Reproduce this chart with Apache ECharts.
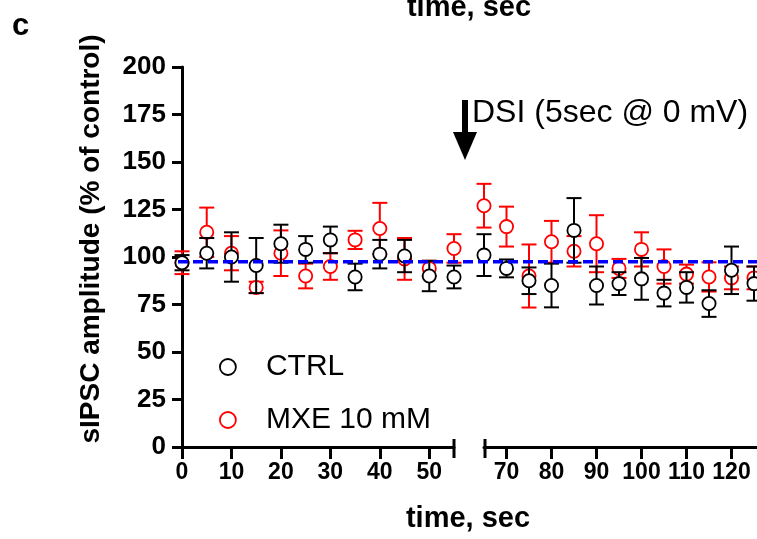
<!DOCTYPE html>
<html>
<head>
<meta charset="utf-8">
<script src="https://cdn.jsdelivr.net/npm/echarts@6/dist/echarts.min.js"></script>
<style>
html,body{margin:0;padding:0;background:#fff;}
#chart{width:757px;height:539px;}
</style>
</head>
<body>
<div id="chart"></div>
<script>
// ---- data ----
const times   = [0, 5, 10, 15, 20, 25, 30, 35, 40, 45, 50, 55, 65, 70, 75, 80, 85, 90, 95, 100, 105, 110, 115, 120, 125];
const ctrlMean = [97, 102, 100, 95.5, 107, 104, 109, 89.5, 101.5, 100.5, 90, 89.5, 101, 94, 87.5, 85, 114, 85, 86, 88.5, 81, 84, 75.5, 93, 86];
const ctrlErr  = [4, 8, 13, 14.5, 10, 7, 7, 7, 7.5, 8.5, 8, 6, 11, 4.7, 7, 11.5, 17, 10, 6, 11, 7, 8, 7, 12.5, 9];
const mxeMean  = [97, 113, 102, 84, 102, 90, 95, 109, 115, 99, 94, 104.5, 127, 116, 90, 108, 103, 107, 94, 104, 95, 91, 89.5, 89, 89];
const mxeErr   = [6, 13, 9, 3, 12, 6.5, 7, 4.8, 13.5, 11, 4, 7.5, 11.5, 10.5, 16.6, 11, 8, 15, 5, 9, 9, 5, 7.7, 6, 6];
const refLevel = 97.5;
const leftTicks  = [0, 10, 20, 30, 40, 50];
const rightTicks = [70, 80, 90, 100, 110, 120];
const yTickStep = 25;
const seriesNames = ['CTRL', 'MXE 10 mM'];
const breakAt = 60;

const FONT = "'Liberation Sans', Arial, sans-serif";
const NARROW = "'Liberation Sans Narrow', 'Arial Narrow', 'Liberation Sans', Arial, sans-serif";

function rows(mean, err, left) {
  const out = [];
  times.forEach((t, i) => {
    if ((t < breakAt) === left) out.push([t, mean[i], err[i]]);
  });
  return out;
}

function errRender(color) {
  return function (params, api) {
    const x = api.value(0), m = api.value(1), e = api.value(2);
    const c = api.coord([x, m]);
    const hi = api.coord([x, m + e]);
    const lo = api.coord([x, m - e]);
    const cap = 7.5, r = 6.6;
    const ls = { stroke: color, lineWidth: 2, fill: null };
    return {
      type: 'group',
      children: [
        { type: 'line', shape: { x1: c[0], y1: hi[1], x2: c[0], y2: lo[1] }, style: ls },
        { type: 'line', shape: { x1: c[0] - cap, y1: hi[1], x2: c[0] + cap, y2: hi[1] }, style: ls },
        { type: 'line', shape: { x1: c[0] - cap, y1: lo[1], x2: c[0] + cap, y2: lo[1] }, style: ls },
        { type: 'circle', shape: { cx: c[0], cy: c[1], r: r }, style: { stroke: color, lineWidth: 1.8, fill: '#fff' } }
      ]
    };
  };
}

const chart = echarts.init(document.getElementById('chart'), null, { renderer: 'canvas' });

const axisLineStyle = { color: '#000', width: 3 };
const xLabel = { fontFamily: NARROW, fontWeight: 'bold', fontSize: 23, color: '#000', margin: 14 };

const option = {
  animation: false,
  backgroundColor: '#fff',
  grid: [
    { left: 182, top: 67, width: 272, height: 380 },
    { left: 484, top: 67, width: 273, height: 380 },
    { left: 178, top: 67, right: 0, height: 380 }
  ],
  xAxis: [
    {
      type: 'value', gridIndex: 0, min: 0, max: 55,
      axisLine: { show: true, lineStyle: axisLineStyle },
      axisTick: { show: true, length: 12, lineStyle: { color: '#000', width: 3 }, customValues: leftTicks },
      axisLabel: Object.assign({ customValues: leftTicks }, xLabel),
      splitLine: { show: false }
    },
    {
      type: 'value', gridIndex: 1, min: 65, max: 65 + 273 / 4.5,
      axisLine: { show: true, lineStyle: axisLineStyle },
      axisTick: { show: true, length: 12, lineStyle: { color: '#000', width: 3 }, customValues: rightTicks },
      axisLabel: Object.assign({ customValues: rightTicks }, xLabel),
      splitLine: { show: false }
    },
    { type: 'value', gridIndex: 2, min: 0, max: 1, show: false }
  ],
  yAxis: [
    {
      type: 'value', gridIndex: 0, min: 0, max: 200, interval: yTickStep,
      axisLine: { show: true, lineStyle: axisLineStyle },
      axisTick: { show: true, length: 10, lineStyle: { color: '#000', width: 3 } },
      axisLabel: { fontFamily: FONT, fontWeight: 'bold', fontSize: 26, color: '#000', margin: 16 },
      splitLine: { show: false }
    },
    { type: 'value', gridIndex: 1, min: 0, max: 200, show: false },
    { type: 'value', gridIndex: 2, min: 0, max: 200, show: false }
  ],
  legend: {
    orient: 'vertical', left: 214, top: 345,
    itemWidth: 16, itemHeight: 16, itemGap: 19,
    icon: 'circle',
    selectedMode: false,
    textStyle: { fontFamily: FONT, fontSize: 30, color: '#000', lineHeight: 34, padding: [0, 0, 0, 25] },
    data: [
      { name: seriesNames[0], itemStyle: { color: '#fff', borderColor: '#000', borderWidth: 1.8 } },
      { name: seriesNames[1], itemStyle: { color: '#fff', borderColor: '#ff0000', borderWidth: 1.8 } }
    ]
  },
  series: [
    { type: 'custom', name: seriesNames[1], xAxisIndex: 0, yAxisIndex: 0, renderItem: errRender('#ff0000'), data: rows(mxeMean, mxeErr, true), itemStyle: { color: '#ff0000' }, z: 2 },
    { type: 'custom', name: seriesNames[1], xAxisIndex: 1, yAxisIndex: 1, renderItem: errRender('#ff0000'), data: rows(mxeMean, mxeErr, false), itemStyle: { color: '#ff0000' }, z: 2, clip: false },
    { type: 'custom', name: seriesNames[0], xAxisIndex: 0, yAxisIndex: 0, renderItem: errRender('#000000'), data: rows(ctrlMean, ctrlErr, true), itemStyle: { color: '#000' }, z: 3 },
    { type: 'custom', name: seriesNames[0], xAxisIndex: 1, yAxisIndex: 1, renderItem: errRender('#000000'), data: rows(ctrlMean, ctrlErr, false), itemStyle: { color: '#000' }, z: 3, clip: false },
    {
      type: 'line', xAxisIndex: 2, yAxisIndex: 2, data: [[0, refLevel], [1, refLevel]],
      symbol: 'none', silent: true, z: 10,
      lineStyle: { color: '#0000ff', width: 3.5, type: [10, 5] }
    }
  ],
  graphic: [
    { type: 'text', x: 12, y: 26, style: { text: 'c', font: 'bold 31px ' + FONT, fill: '#000', verticalAlign: 'middle' } },
    { type: 'text', x: 469, y: 22, style: { text: 'time, sec', font: 'bold 29px ' + FONT, fill: '#000', align: 'center', verticalAlign: 'bottom' } },
    { type: 'text', x: 468, y: 533, style: { text: 'time, sec', font: 'bold 29px ' + FONT, fill: '#000', align: 'center', verticalAlign: 'bottom' } },
    { type: 'text', x: 91, y: 239, rotation: Math.PI / 2, style: { text: 'sIPSC amplitude (% of control)', font: 'bold 28px ' + FONT, fill: '#000', align: 'center', verticalAlign: 'middle' } },
    { type: 'text', x: 472, y: 113, style: { text: 'DSI (5sec @ 0 mV)', font: '32px ' + FONT, fill: '#000', verticalAlign: 'middle' } },
    { type: 'rect', shape: { x: 462, y: 100, width: 6, height: 34 }, style: { fill: '#000' } },
    { type: 'polygon', shape: { points: [[453, 132], [477, 132], [465, 160]] }, style: { fill: '#000' } },
    { type: 'line', shape: { x1: 454, y1: 439, x2: 454, y2: 458 }, style: { stroke: '#000', lineWidth: 3 } },
    { type: 'line', shape: { x1: 485, y1: 439, x2: 485, y2: 458 }, style: { stroke: '#000', lineWidth: 3 } }
  ]
};

chart.setOption(option);
</script>
</body>
</html>
